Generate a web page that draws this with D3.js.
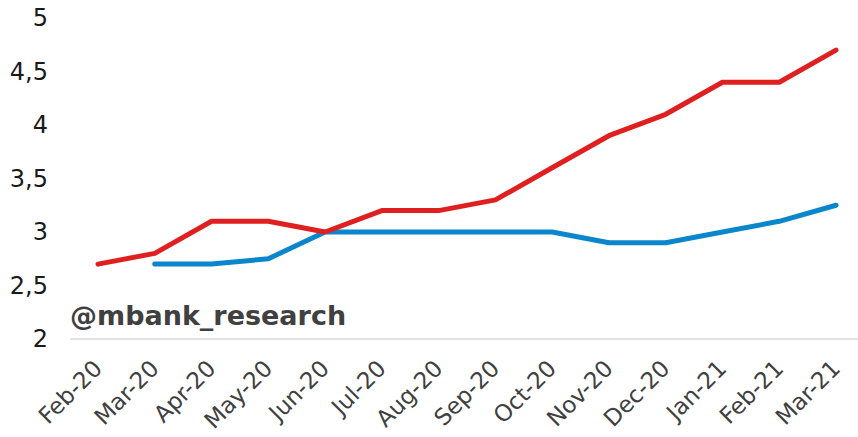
<!DOCTYPE html>
<html>
<head>
<meta charset="utf-8">
<script src="https://cdn.jsdelivr.net/npm/d3@7"></script>
<style>
  html, body { margin: 0; padding: 0; background: #fff; }
  svg { display: block; }
  text { font-family: "DejaVu Sans", Verdana, sans-serif; }
</style>
</head>
<body>
<svg id="chart" width="858" height="437"></svg>
<script>
// Monthly categories
const months = ["Feb-20","Mar-20","Apr-20","May-20","Jun-20","Jul-20","Aug-20",
                "Sep-20","Oct-20","Nov-20","Dec-20","Jan-21","Feb-21","Mar-21"];
// Series values (null = no observation)
const redSeries  = [2.7, 2.8, 3.1, 3.1, 3.0, 3.2, 3.2, 3.3, 3.6, 3.9, 4.1, 4.4, 4.4, 4.7];
const blueSeries = [null, 2.7, 2.7, 2.75, 3.0, 3.0, 3.0, 3.0, 3.0, 2.9, 2.9, 3.0, 3.1, 3.25];
// Y-axis ticks
const yTicks = [2, 2.5, 3, 3.5, 4, 4.5, 5];

const svg = d3.select("#chart");
const fmt = v => String(v).replace(".", ",");

const x = d3.scalePoint().domain(months).range([98, 836]);
const y = d3.scaleLinear().domain([2, 5]).range([339, 18]);

// Y axis labels (no axis line)
const yAxis = svg.append("g")
  .attr("transform", "translate(48,0)")
  .call(d3.axisLeft(y).tickValues(yTicks).tickFormat(fmt).tickSize(0).tickPadding(0));
yAxis.select(".domain").remove();
yAxis.selectAll("text")
  .attr("fill", "#1a1a1a")
  .style("font-size", "24px");

// X baseline
svg.append("line")
  .attr("x1", 70).attr("x2", 858)
  .attr("y1", y(2)).attr("y2", y(2))
  .attr("stroke", "#d9d9d9").attr("stroke-width", 1.5);

// X axis labels, rotated
const xAxis = svg.append("g")
  .attr("transform", `translate(0,${y(2)})`)
  .call(d3.axisBottom(x).tickSize(0).tickPadding(0));
xAxis.select(".domain").remove();
xAxis.selectAll("text")
  .attr("fill", "#404040")
  .style("font-size", "23px")
  .attr("text-anchor", "end")
  .attr("dy", null)
  .attr("y", 0)
  .attr("transform", "translate(5,31) rotate(-45)");

// Watermark
svg.append("text")
  .attr("x", 70).attr("y", 325)
  .attr("fill", "#404040")
  .style("font-size", "27px")
  .style("font-weight", "bold")
  .text("@mbank_research");

const line = d3.line()
  .defined(d => d.v != null)
  .x(d => x(d.m))
  .y(d => y(d.v));

function draw(values, color) {
  svg.append("path")
    .datum(months.map((m, i) => ({ m, v: values[i] })))
    .attr("fill", "none")
    .attr("stroke", color)
    .attr("stroke-width", 5)
    .attr("stroke-linejoin", "round")
    .attr("stroke-linecap", "round")
    .attr("d", line);
}
draw(blueSeries, "#0a87cc");
draw(redSeries, "#e02020");
</script>
</body>
</html>
